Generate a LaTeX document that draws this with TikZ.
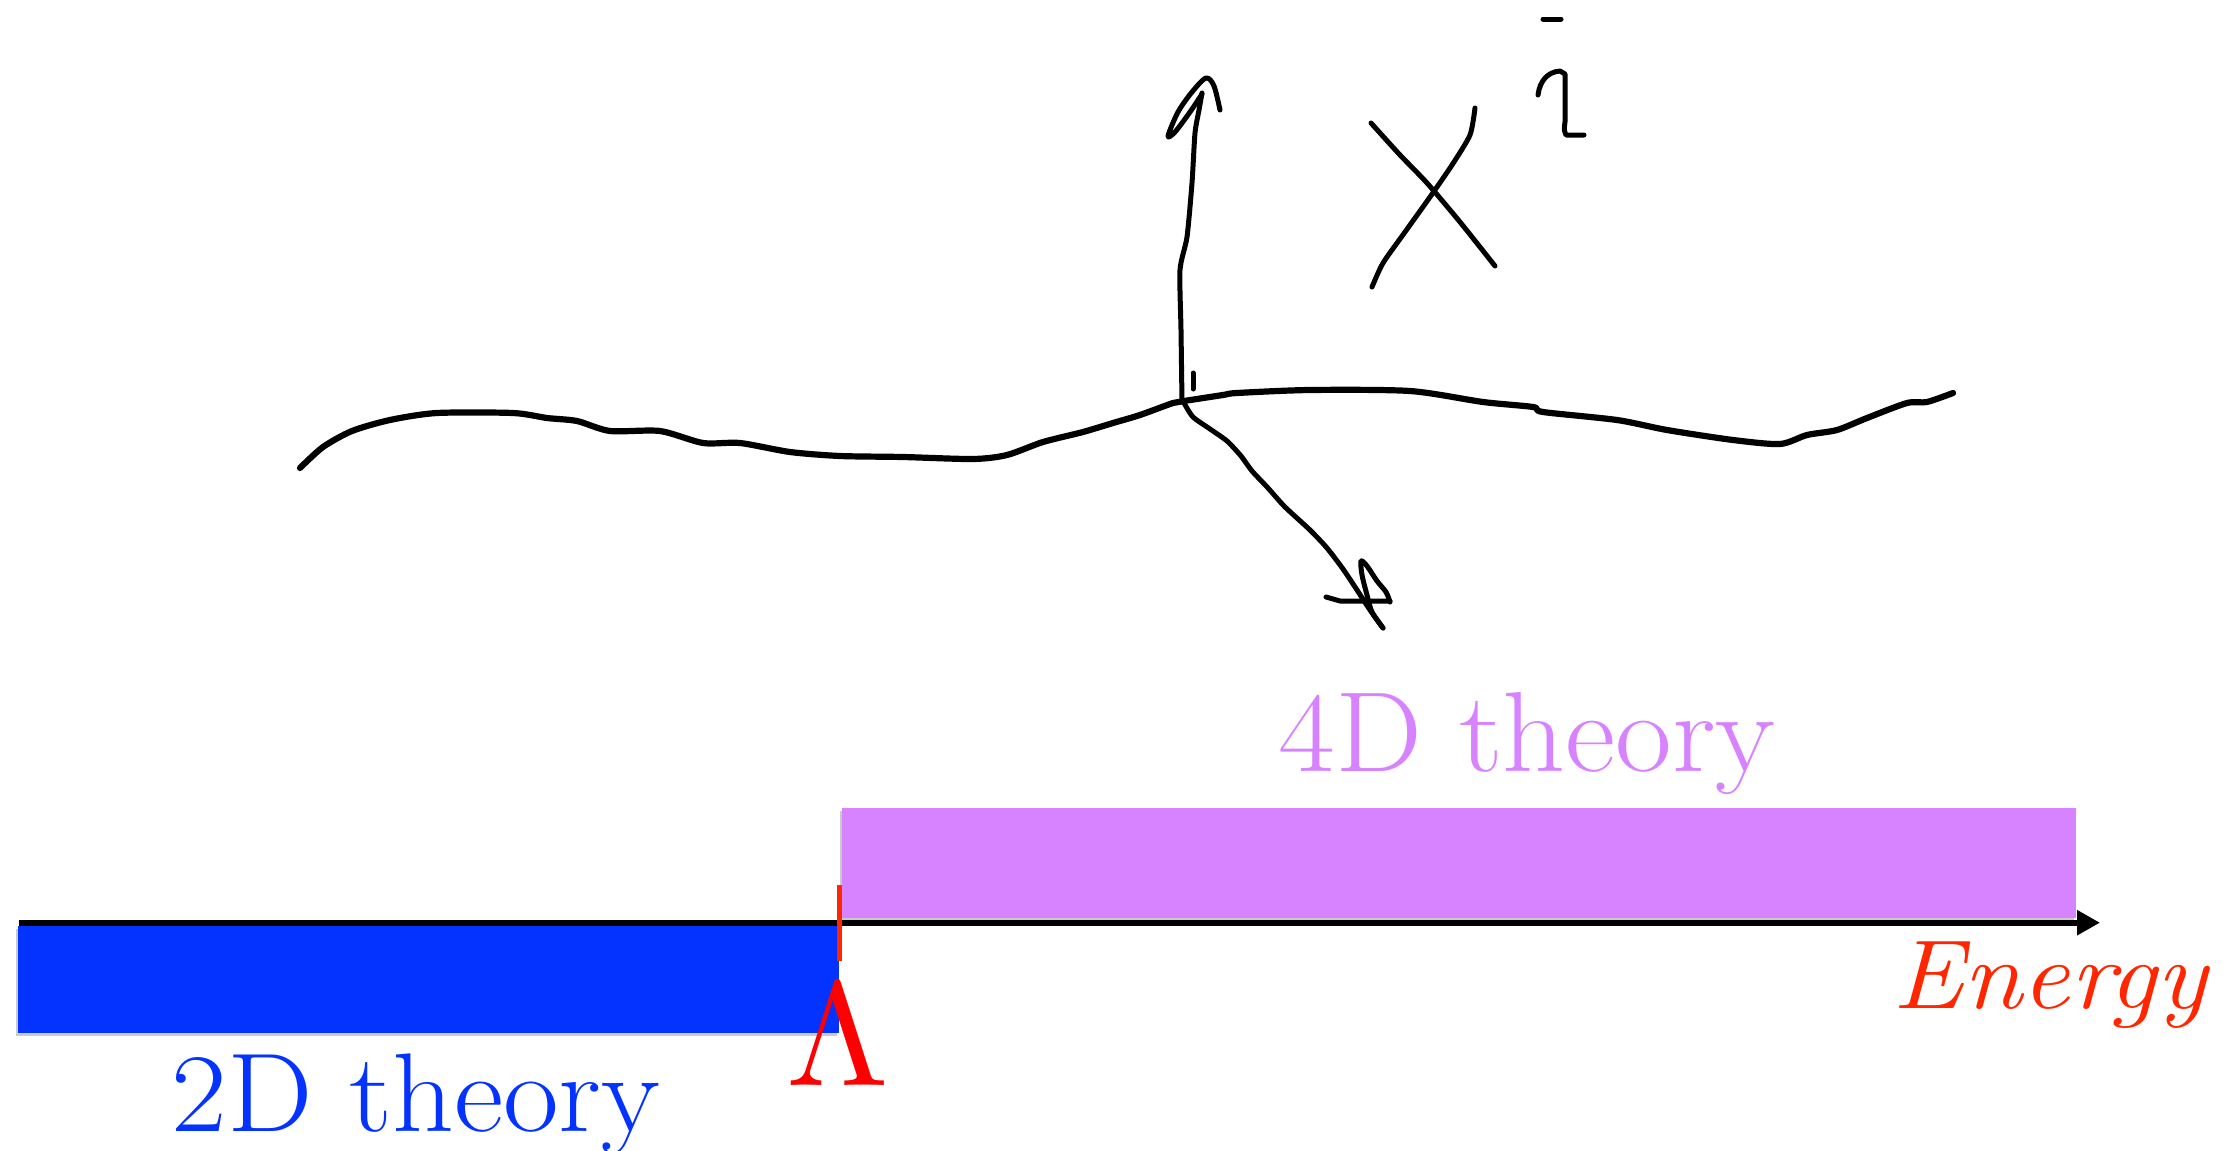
\documentclass[tikz,border=0pt]{standalone}
\usetikzlibrary{shadows,arrows.meta}
\definecolor{twoblue}{RGB}{4,51,255}
\definecolor{fourpurple}{RGB}{215,131,255}
\definecolor{lamred}{RGB}{255,0,0}
\definecolor{engred}{RGB}{255,38,0}
\tikzset{
  sketch/.style={draw=black, line width=2.5pt, line cap=round, line join=round},
  thickstroke/.style={sketch, line width=3.1pt},
  band/.style={draw=none, drop shadow={shadow xshift=-1.2pt, shadow yshift=-1.5pt, opacity=0.35, fill=black!60}},
  lbl/.style={inner sep=0pt, anchor=base}
}
\begin{document}
\begin{tikzpicture}[x=0.5pt,y=-0.5pt]
\useasboundingbox (0,0) rectangle (2229,1151);
% bands
\fill[band, fill=fourpurple] (842,808) rectangle (2076,918);
\draw[line width=2.8pt, -{Triangle[length=11.5pt,width=12pt]}] (19,922.7) -- (2100,922.7);
\fill[band, fill=twoblue] (18,926) rectangle (839,1033);
\draw[draw=engred, line width=2.5pt] (839.5,885) -- (839.5,961);
% labels
\node[lbl, text=twoblue, font=\fontsize{56pt}{60pt}\selectfont] (two) at (416,1131) {\scalebox{1.08}[1]{2D theory}};
\node[lbl, text=fourpurple, font=\fontsize{57pt}{60pt}\selectfont] (four) at (1527,771) {\scalebox{1.08}[1]{4D theory}};
\node[lbl, text=lamred] (lam) at (838,1085) {\scalebox{7.4}{$\Lambda$}};
\node[lbl, text=engred, font=\fontsize{49pt}{52pt}\selectfont\itshape] (en) at (2050,1008) {\scalebox{1.09}[1]{Energy}};
% hand-drawn string
\draw[thickstroke] plot[smooth, tension=0.45] coordinates {
 (300,468) (323,447) (352,431) (390,420) (437,413) (513,413) (547,418) (577,421)
 (610,431) (660,431) (703,443) (740,443) (790,452) (840,456) (903,457) (973,459)
 (1007,455) (1043,442) (1083,432) (1113,423) (1140,415) (1173,403) (1184,401)
 (1223,395) (1237,393) (1310,390) (1410,391) (1483,402) (1533,407) (1543,412)
 (1617,420) (1667,430) (1733,440) (1780,444) (1807,435) (1837,430) (1867,418)
 (1907,403) (1927,402) (1953,393)};
% vertical arrow
\draw[sketch] plot[smooth, tension=0.4] coordinates {
 (1182,402) (1181,330) (1180,270) (1187,237) (1192,183) (1195,133) (1199,110) (1202,93)};
\draw[sketch] plot[smooth, tension=0.5] coordinates {
 (1220,110) (1214,86) (1206,78) (1192,92) (1178,112) (1168,136) (1175,132) (1190,112) (1202,94)};
\draw[sketch] (1193,373) -- (1193,389);
% diagonal arrow
\draw[sketch] plot[smooth, tension=0.4] coordinates {
 (1184,403) (1193,417) (1210,429) (1227,441) (1241,456) (1252,471) (1268,488)
 (1285,507) (1310,530) (1327,548) (1343,569) (1357,590) (1370,610) (1383,628)};
\draw[sketch] plot[smooth, tension=0.5] coordinates {
 (1383,628) (1372,612) (1367,595) (1362,575) (1361,561) (1367,566) (1377,581) (1386,592) (1390,602)};
\draw[sketch] (1326,597) -- (1340,601) -- (1390,601);
% X
\draw[sketch] plot[smooth, tension=0.4] coordinates {
 (1371,123) (1400,155) (1427,183) (1460,222) (1495,266)};
\draw[sketch] plot[smooth, tension=0.4] coordinates {
 (1475,108) (1470,135) (1452,165) (1430,197) (1405,232) (1383,263) (1372,287)};
% superscript i
\draw[sketch] (1543,19) -- (1561,19);
\draw[sketch] (1538,95) .. controls (1540,80) and (1548,72) .. (1560,71)
  -- (1565,74) -- (1565,122) .. controls (1564,130) .. (1566,135) -- (1584,135);
\end{tikzpicture}
\end{document}
